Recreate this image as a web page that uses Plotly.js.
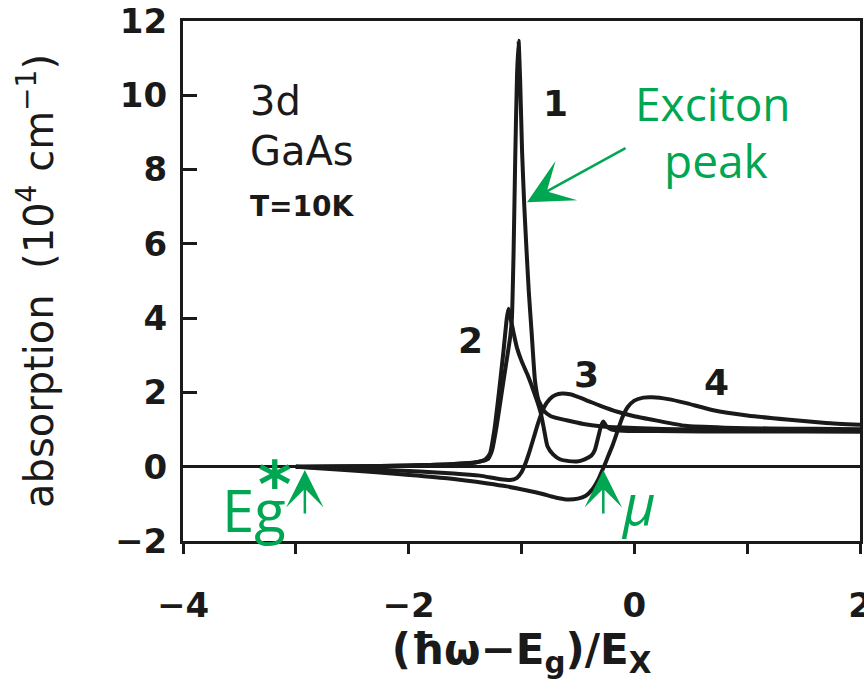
<!DOCTYPE html>
<html>
<head>
<meta charset="utf-8">
<script src="https://cdn.plot.ly/plotly-3.0.1.min.js"></script>
<style>html,body{margin:0;padding:0;background:#fff;}#chart{width:864px;height:689px;}</style>
</head>
<body>
<div id="chart"></div>
<script>
// Curve 1: lowest density, strong exciton peak
const x1 = [-3.0, -2.5, -2.0, -1.6, -1.4, -1.3, -1.26, -1.22, -1.18, -1.14, -1.1, -1.085, -1.07, -1.055, -1.04, -1.026, -1.012, -0.995, -0.975, -0.955, -0.935, -0.91, -0.88, -0.85, -0.8, -0.74, -0.6, -0.45, -0.3, 0.0, 0.5, 1.0, 1.5, 2.0];
const y1 = [0.0, 0.01, 0.03, 0.07, 0.12, 0.2, 0.45, 1.1, 1.9, 2.7, 3.5, 4.0, 5.8, 8.4, 10.5, 11.47, 10.4, 8.5, 7.0, 5.8, 4.7, 3.6, 2.3, 1.8, 1.5, 1.36, 1.25, 1.15, 1.09, 1.04, 1.0, 0.98, 0.97, 0.97];
// Curve 2
const x2 = [-3.0, -2.5, -2.0, -1.6, -1.4, -1.32, -1.28, -1.24, -1.2, -1.16, -1.13, -1.115, -1.1, -1.07, -1.04, -1.0, -0.95, -0.9, -0.86, -0.83, -0.8, -0.77, -0.72, -0.66, -0.58, -0.51, -0.44, -0.38, -0.35, -0.32, -0.295, -0.275, -0.25, -0.2, -0.1, 0.2, 0.6, 1.0, 1.5, 2.0];
const y2 = [0.0, 0.01, 0.03, 0.07, 0.12, 0.2, 0.35, 1.0, 2.0, 3.1, 4.0, 4.25, 4.05, 3.6, 3.2, 2.85, 2.5, 2.1, 1.75, 1.45, 1.0, 0.55, 0.33, 0.2, 0.15, 0.14, 0.2, 0.3, 0.45, 0.8, 1.1, 1.22, 1.1, 1.0, 0.97, 0.96, 0.95, 0.95, 0.95, 0.94];
// Curve 3
const x3 = [-3.0, -2.5, -2.2, -1.9, -1.6, -1.37, -1.2, -1.1, -1.04, -1.0, -0.97, -0.93, -0.89, -0.85, -0.8, -0.75, -0.7, -0.64, -0.57, -0.5, -0.4, -0.3, -0.15, 0.0, 0.2, 0.45, 0.8, 1.2, 1.6, 2.0];
const y3 = [0.0, -0.05, -0.09, -0.13, -0.18, -0.24, -0.33, -0.36, -0.3, -0.15, 0.05, 0.4, 0.8, 1.2, 1.6, 1.82, 1.93, 1.97, 1.95, 1.88, 1.76, 1.64, 1.48, 1.36, 1.24, 1.1, 1.05, 1.03, 1.02, 1.01];
// Curve 4: highest density, gain region
const x4 = [-3.0, -2.5, -2.07, -1.66, -1.3, -1.13, -0.95, -0.83, -0.7, -0.6, -0.5, -0.43, -0.37, -0.32, -0.27, -0.23, -0.19, -0.15, -0.11, -0.06, 0.0, 0.08, 0.16, 0.3, 0.45, 0.7, 1.0, 1.35, 1.7, 2.0];
const y4 = [0.0, -0.1, -0.2, -0.31, -0.45, -0.53, -0.64, -0.72, -0.83, -0.88, -0.86, -0.78, -0.6, -0.35, 0.0, 0.3, 0.6, 0.95, 1.3, 1.6, 1.78, 1.86, 1.87, 1.82, 1.72, 1.52, 1.38, 1.27, 1.18, 1.13];

const xTickVals = [-4, -2, 0, 2];
const xTickText = ['\u22124', '\u22122', '0', '2'];
const xMinorVals = [-3, -1, 1];
const yTickVals = [-2, 0, 2, 4, 6, 8, 10, 12];
const yTickText = ['\u22122', '0', '2', '4', '6', '8', '10', '12'];

const curveLabels = ['1', '2', '3', '4'];
const curveLabelX = [-0.70, -1.456, -0.428, 0.725];
const curveLabelY = [9.79, 3.41, 2.47, 2.28];

const BLACK = '#1a1a1a';
const GREEN = '#00a651';
const FONT = 'DejaVu Sans, sans-serif';
const GFONT = 'Open Sans, sans-serif';

const lineStyle = {color: BLACK, width: 4, shape: 'spline', smoothing: 0.5};
const traces = [[x1, y1], [x2, y2], [x3, y3], [x4, y4]].map((d, i) => ({
  x: d[0], y: d[1], type: 'scatter', mode: 'lines', name: curveLabels[i],
  line: lineStyle, hoverinfo: 'skip'
}));

const annotations = [];
curveLabels.forEach((t, i) => annotations.push({
  x: curveLabelX[i], y: curveLabelY[i], xref: 'x', yref: 'y', text: '<b>' + t + '</b>',
  showarrow: false, font: {family: FONT, size: 36, color: BLACK}
}));
annotations.push(
  {x: -3.42, y: 9.85, xref: 'x', yref: 'y', xanchor: 'left', text: '3d', showarrow: false, font: {family: FONT, size: 40, color: BLACK}},
  {x: -3.42, y: 8.5, xref: 'x', yref: 'y', xanchor: 'left', text: 'GaAs', showarrow: false, font: {family: FONT, size: 40, color: BLACK}},
  {x: -3.42, y: 7.0, xref: 'x', yref: 'y', xanchor: 'left', text: '<b>T=10K</b>', showarrow: false, font: {family: FONT, size: 28, color: BLACK}},
  {x: 0.70, y: 9.8, xref: 'x', yref: 'y', text: 'Exciton', showarrow: false, font: {family: GFONT, size: 46, color: GREEN}},
  {x: 0.72, y: 8.25, xref: 'x', yref: 'y', text: 'peak', showarrow: false, font: {family: GFONT, size: 46, color: GREEN}},
  {x: -0.951, y: 7.12, xref: 'x', yref: 'y', ax: 100, ay: -55, text: '', showarrow: true,
   arrowhead: 3, arrowsize: 3, arrowwidth: 2.5, arrowcolor: GREEN, standoff: 0},
  {x: -2.92, y: -0.09, xref: 'x', yref: 'y', ax: 0, ay: 45, text: '', showarrow: true,
   arrowhead: 3, arrowsize: 2.5, arrowwidth: 2.5, arrowcolor: GREEN, standoff: 0},
  {x: -0.275, y: -0.09, xref: 'x', yref: 'y', ax: 0, ay: 45, text: '', showarrow: true,
   arrowhead: 3, arrowsize: 2.5, arrowwidth: 2.5, arrowcolor: GREEN, standoff: 0},
  {x: -3.37, y: -1.15, xref: 'x', yref: 'y', text: 'Eg', showarrow: false, font: {family: GFONT, size: 58, color: GREEN}},
  {x: -3.19, y: -0.5, xref: 'x', yref: 'y', text: '*', showarrow: false, font: {family: 'DejaVu Sans, sans-serif', size: 64, color: GREEN, weight: 'bold'}},
  {x: 0.035, y: -0.97, xref: 'x', yref: 'y', text: '<i>\u03bc</i>', showarrow: false, font: {family: GFONT, size: 56, color: GREEN}}
);

const layout = {
  width: 864, height: 689,
  margin: {l: 183, r: 4, t: 21, b: 148},
  paper_bgcolor: '#ffffff', plot_bgcolor: '#ffffff',
  showlegend: false,
  xaxis: {
    range: [-4, 2], tickvals: xTickVals, ticktext: xTickText,
    ticks: 'outside', ticklen: 10, tickwidth: 3, tickcolor: BLACK,
    minor: {tickvals: xMinorVals, ticks: 'outside', ticklen: 10, tickwidth: 3, tickcolor: BLACK},
    showline: true, linewidth: 3, linecolor: BLACK, mirror: true,
    showgrid: false, zeroline: false,
    ticklabeloverflow: 'allow',
    tickfont: {family: FONT, size: 34, color: BLACK, weight: 'bold'},
    ticklabelstandoff: 22,
    title: {text: '<b>(\u0127\u03c9\u2212E<sub>g</sub>)/E<sub>X</sub></b>', font: {family: FONT, size: 42, color: BLACK}, standoff: 8}
  },
  yaxis: {
    range: [-2, 12], tickvals: yTickVals, ticktext: yTickText,
    ticks: 'inside', ticklen: 14, tickwidth: 3, tickcolor: BLACK,
    showline: true, linewidth: 3, linecolor: BLACK, mirror: true,
    showgrid: false, zeroline: true, zerolinecolor: BLACK, zerolinewidth: 3,
    tickfont: {family: FONT, size: 34, color: BLACK, weight: 'bold'},
    ticklabelstandoff: 6,
    title: {text: 'absorption  (10<sup>4</sup> cm<sup>\u22121</sup>)', font: {family: FONT, size: 40, color: BLACK}, standoff: 50}
  },
  annotations: annotations
};

Plotly.newPlot('chart', traces, layout, {staticPlot: true, displayModeBar: false});
</script>
</body>
</html>
